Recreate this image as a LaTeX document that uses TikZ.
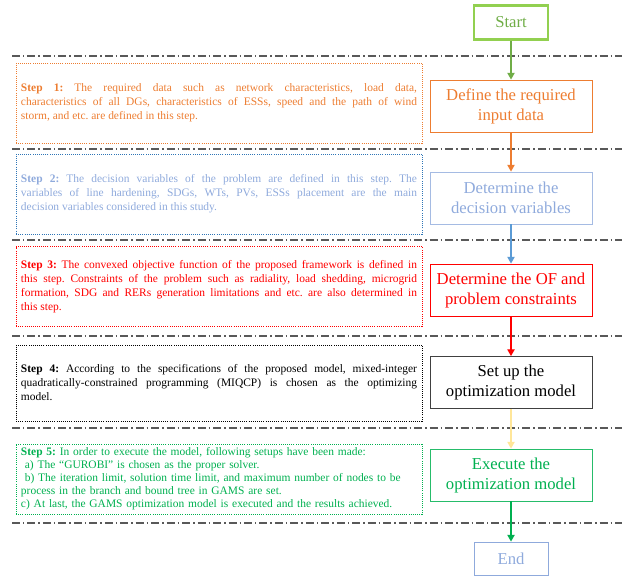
\documentclass[tikz,border=0pt]{standalone}
\usepackage{fontspec}
\setmainfont{Liberation Serif}
\definecolor{fcgreen}{HTML}{92D050}
\definecolor{fcgreentx}{HTML}{70AD47}
\definecolor{fcorange}{HTML}{ED7D31}
\definecolor{fcblue}{HTML}{8FAADC}
\definecolor{fcbluedk}{HTML}{2E75B6}
\definecolor{fcbluear}{HTML}{5B9BD5}
\definecolor{fcred}{HTML}{FF0000}
\definecolor{fcgray}{HTML}{404040}
\definecolor{fcyellow}{HTML}{FFE699}
\definecolor{fcexec}{HTML}{00B050}
\definecolor{fcsep}{HTML}{595959}
\usetikzlibrary{arrows.meta}
\frenchspacing

\begin{document}
\begin{tikzpicture}[x=0.75pt,y=-0.75pt,
  stp/.style={draw,densely dotted,line width=0.6pt,minimum width=304.5pt,minimum height=60pt,
    text width=297pt,align=justify,inner sep=0pt,font=\fontsize{8.6}{10.5}\selectfont},
  blk/.style={draw,line width=0.7pt,minimum width=121.5pt,minimum height=39pt,inner sep=1pt,
    align=center,font=\fontsize{12.5}{15}\selectfont},
  term/.style={draw,minimum width=56pt,minimum height=25.5pt,inner sep=1pt,
    font=\fontsize{12.5}{15}\selectfont},
  sep/.style={fcsep,line width=1.4pt,dash pattern=on 6pt off 2.25pt on 1.1pt off 2.25pt},
  arr/.style={-{Triangle[length=5pt,width=5.5pt]},line width=0.8pt}]
  \useasboundingbox (0,0) rectangle (631,576);
  \draw[sep] (12,56) -- (622,56);
  \draw[sep] (12,149) -- (622,149);
  \draw[sep] (12,240) -- (622,240);
  \draw[sep] (12,336) -- (622,336);
  \draw[sep] (12,428) -- (622,428);
  \draw[sep] (12,523) -- (622,523);
  \node[term,draw=fcgreen,line width=1.6pt,text=fcgreentx] (start) at (511,22.5) {Start};
  \node[blk,draw=fcorange,text=fcorange] (b1) at (511,106) {Define the required\\input data};
  \node[blk,draw=fcblue!80,text=fcblue] (b2) at (511,198) {Determine the\\decision variables};
  \node[blk,draw=fcred,text=fcred] (b3) at (511,290) {Determine the OF and\\problem constraints};
  \node[blk,draw=fcgray,text=black] (b4) at (511,382.5) {Set up the\\optimization model};
  \node[blk,draw=fcexec!85,text=fcexec] (b5) at (511,475) {Execute the\\optimization model};
  \node[term,draw=fcblue,line width=0.7pt,text=fcblue,minimum width=55.5pt,minimum height=24.75pt] (end) at (511,558.5) {End};
  \draw[arr,fcgreentx] (start) -- (b1);
  \draw[arr,fcorange] (b1) -- (b2);
  \draw[arr,fcbluear] (b2) -- (b3);
  \draw[arr,fcred] (b3) -- (b4);
  \draw[arr,fcyellow] (b4) -- (b5);
  \draw[arr,fcexec] (b5) -- (end);
  \node[stp,draw=fcorange,text=fcorange] (s1) at (219,103)
    {\textbf{Step 1:} The required data such as network characteristics, load data,\linebreak
     characteristics of all DGs, characteristics of ESSs, speed and the path of wind\linebreak
     storm, and etc. are defined in this step.};
  \node[stp,draw=fcbluedk,text=fcblue] (s2) at (219,194)
    {\textbf{Step 2:} The decision variables of the problem are defined in this step. The\linebreak
     variables of line hardening, SDGs, WTs, PVs, ESSs placement are the main\linebreak
     decision variables considered in this study.};
  \node[stp,draw=fcred,text=fcred] (s3) at (219,286.5)
    {\textbf{Step 3:} The convexed objective function of the proposed framework is defined in\linebreak
     this step. Constraints of the problem such as radiality, load shedding, microgrid\linebreak
     formation, SDG and RERs generation limitations and etc. are also determined in\linebreak
     this step.};
  \node[stp,draw=black,text=black,minimum height=57pt] (s4) at (219,383)
    {\textbf{Step 4:} According to the specifications of the proposed model, mixed-integer\linebreak
     quadratically-constrained programming (MIQCP) is chosen as the optimizing\linebreak
     model.};
  \node[stp,draw=fcexec,text=fcexec,minimum height=52.5pt,align=left,
    font=\fontsize{8.6}{9.75}\selectfont] (s5) at (219,479)
    {\textbf{Step 5:} In order to execute the model, following setups have been made:\\
     \ a) The ``GUROBI'' is chosen as the proper solver.\\
     \ b) The iteration limit, solution time limit, and maximum number of nodes to be\\
     process in the branch and bound tree in GAMS are set.\\
     c) At last, the GAMS optimization model is executed and the results achieved.};
\end{tikzpicture}
\end{document}
